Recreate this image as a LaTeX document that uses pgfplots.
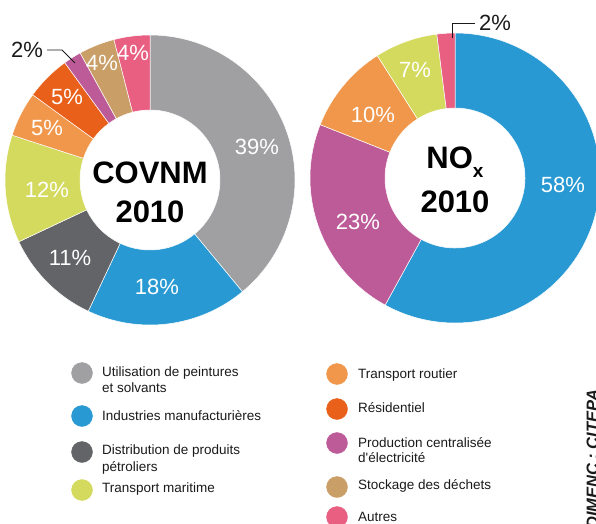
\documentclass[border=0pt]{standalone}
\usepackage{fontspec}
\setmainfont{Liberation Sans}
\usepackage{pgfplots}
\usepackage{pgfplotstable}
\pgfplotsset{compat=1.18}

\definecolor{cgray}{HTML}{A0A0A3}
\definecolor{cblue}{HTML}{2899D2}
\definecolor{cdark}{HTML}{636467}
\definecolor{cyellow}{HTML}{D3DA5D}
\definecolor{clorange}{HTML}{F0974B}
\definecolor{corange}{HTML}{E8601A}
\definecolor{cpurple}{HTML}{BD5B99}
\definecolor{ctan}{HTML}{C99E67}
\definecolor{cpink}{HTML}{E85F82}
\definecolor{ink}{HTML}{1A1A1A}

\tikzset{
  pct/.style={font=\fontsize{22}{22}\selectfont, inner sep=0pt, anchor=center},
  leg/.style={font=\fontsize{13.5}{16}\selectfont, text=ink, inner sep=0pt, anchor=base west},
  ttl/.style={font=\bfseries\fontsize{31}{31}\selectfont, text=black, inner sep=0pt, anchor=base},
}

% share (%), slice colour, label offset from the centre, label colour
\pgfplotstableread{
val col lx ly lc
39 cgray 107 33 white
18 cblue 7 -107 white
11 cdark -80 -78 white
12 cyellow -103 -10 white
5 clorange -103 52 white
5 corange -83 83 white
2 cpurple -123 130 ink
4 ctan -48 117 white
4 cpink -17 127 white
}\covnm

\pgfplotstableread{
val col lx ly lc
58 cblue 108 -7 white
23 cpurple -97 -44 white
10 clorange -82 63 white
7 cyellow -40 108 white
2 cpink 40 155 ink
}\nox

\def\Rout{145pt}
\def\Rin{70pt}

% builds the ring slices (#4) and their labels (#5), clockwise from 12 o'clock
\newcommand\builddonut[5]{%
  \pgfplotstablegetrowsof{#1}%
  \pgfmathtruncatemacro\nrows{\pgfplotsretval-1}%
  \gdef\cum{0}\gdef#4{}\gdef#5{}%
  \foreach \i in {0,...,\nrows}{%
    \pgfplotstablegetelem{\i}{val}\of{#1}\edef\slval{\pgfplotsretval}%
    \pgfplotstablegetelem{\i}{col}\of{#1}\edef\slcol{\pgfplotsretval}%
    \pgfplotstablegetelem{\i}{lx}\of{#1}\edef\slx{\pgfplotsretval}%
    \pgfplotstablegetelem{\i}{ly}\of{#1}\edef\sly{\pgfplotsretval}%
    \pgfplotstablegetelem{\i}{lc}\of{#1}\edef\sllc{\pgfplotsretval}%
    \pgfmathsetmacro\sa{90-3.6*\cum}%
    \pgfmathsetmacro\sb{90-3.6*(\cum+\slval)}%
    \pgfmathsetmacro\lxx{#2+\slx}%
    \pgfmathsetmacro\lyy{#3+\sly}%
    \pgfmathsetmacro\newcum{\cum+\slval}%
    \xdef\cum{\newcum}%
    \xdef#4{\unexpanded\expandafter{#4}%
      \noexpand\fill[\slcol, draw=white, line width=0.5pt]
        ([shift={(\sa:\Rout)}]axis cs:#2,#3) arc[start angle=\sa, end angle=\sb, radius=\Rout]
        -- ([shift={(\sb:\Rin)}]axis cs:#2,#3) arc[start angle=\sb, end angle=\sa, radius=\Rin] -- cycle;}%
    \xdef#5{\unexpanded\expandafter{#5}%
      \noexpand\node[pct, text=\sllc] at (axis cs:\lxx,\lyy) {\slval\noexpand\%};}%
  }%
}

\builddonut{\covnm}{150}{343}{\covnmring}{\covnmlabels}
\builddonut{\nox}{455}{345}{\noxring}{\noxlabels}

\begin{document}
\begin{tikzpicture}
\begin{axis}[
    x=1pt, y=1pt,
    xmin=0, xmax=596, ymin=0, ymax=523,
    hide axis, clip=true,
]
\covnmring
\noxring
\covnmlabels
\noxlabels

% leader lines for the two small slices
\draw[ink, line width=0.8pt] (axis cs:47,473) -- (axis cs:62,473) -- (axis cs:75,460);
\draw[ink, line width=0.8pt] (axis cs:452,485) -- (axis cs:452,500) -- (axis cs:475,500);

% centre titles
\node[ttl] at (axis cs:150,340) {COVNM};
\node[ttl] at (axis cs:150,301) {2010};
\node[ttl] at (axis cs:455,355) {NO\raisebox{-9pt}{\fontsize{19}{19}\selectfont x}};
\node[ttl] at (axis cs:455,311) {2010};

% legend
\addplot[only marks, mark=*, mark size=10.5pt, color=cgray] coordinates {(82,150)};
\addplot[only marks, mark=*, mark size=10.5pt, color=cblue] coordinates {(82,107)};
\addplot[only marks, mark=*, mark size=10.5pt, color=cdark] coordinates {(82,71)};
\addplot[only marks, mark=*, mark size=10.5pt, color=cyellow] coordinates {(82,33)};
\addplot[only marks, mark=*, mark size=10.5pt, color=clorange] coordinates {(337,149)};
\addplot[only marks, mark=*, mark size=10.5pt, color=corange] coordinates {(337,114)};
\addplot[only marks, mark=*, mark size=10.5pt, color=cpurple] coordinates {(337,80)};
\addplot[only marks, mark=*, mark size=10.5pt, color=ctan] coordinates {(337,36)};
\addplot[only marks, mark=*, mark size=10.5pt, color=cpink] coordinates {(337,6)};

\node[leg] at (axis cs:102,147) {Utilisation de peintures};
\node[leg] at (axis cs:102,131) {et solvants};
\node[leg] at (axis cs:102,103) {Industries manufacturières};
\node[leg] at (axis cs:102,69) {Distribution de produits};
\node[leg] at (axis cs:102,52) {pétroliers};
\node[leg] at (axis cs:102,31) {Transport maritime};
\node[leg] at (axis cs:358,145) {Transport routier};
\node[leg] at (axis cs:358,111) {Résidentiel};
\node[leg] at (axis cs:358,76) {Production centralisée};
\node[leg] at (axis cs:358,61) {d\textquotesingle électricité};
\node[leg] at (axis cs:358,34) {Stockage des déchets};
\node[leg] at (axis cs:358,2) {Autres};

% source, cut by the right edge
\node[rotate=90, anchor=base west, inner sep=0pt, text=ink,
      font=\bfseries\itshape\fontsize{16.5}{16.5}\selectfont]
  at (axis cs:598,-6) {DIMENC : CITEPA};
\end{axis}
\pgfresetboundingbox
\path[use as bounding box] (0,0) rectangle (596pt,523pt);
\end{tikzpicture}
\end{document}
